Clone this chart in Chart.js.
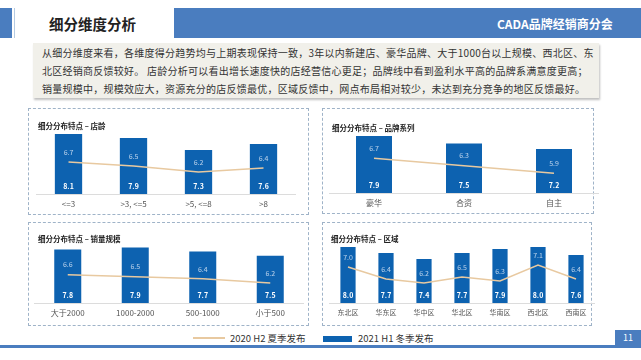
<!DOCTYPE html>
<html><head><meta charset="utf-8">
<script src="https://cdn.jsdelivr.net/npm/chart.js@4/dist/chart.umd.min.js"></script>
<style>
html,body{margin:0;padding:0;background:#fff;}
body{width:641px;height:360px;position:relative;overflow:hidden;font-family:"Noto Sans CJK SC","Noto Sans",sans-serif;}
.abs{position:absolute;}
.panel{position:absolute;border:1px dashed #9fb3c8;box-sizing:border-box;}
.ptitle{position:absolute;font-size:7.5px;font-weight:bold;color:#222;white-space:nowrap;}
.cw{position:absolute;}
</style></head><body>
<div class="abs" style="left:0;top:8px;width:12px;height:30px;background:#4a7dbf"></div>
<div class="abs" style="left:14px;top:8px;width:1px;height:30px;background:#b5cbe3"></div>
<div class="abs" style="left:49px;top:13px;font-size:14.5px;font-weight:bold;color:#222;white-space:nowrap">细分维度分析</div>
<div class="abs" style="left:174px;top:8px;width:467px;height:30px;background:#4a7dbf"></div>
<div class="abs" style="left:497px;top:15px;font-size:12px;font-weight:bold;color:#fff;white-space:nowrap">CADA品牌经销商分会</div>

<div class="abs" style="left:33px;top:43px;width:566px;height:55px;background:#f1f0ea;box-shadow:1px 2px 2px rgba(0,0,0,0.25)"></div>
<div class="abs" style="left:42px;top:44px;font-size:10px;letter-spacing:0.25px;line-height:18px;color:#333;white-space:nowrap">从细分维度来看，各维度得分趋势均与上期表现保持一致，3年以内新建店、豪华品牌、大于1000台以上规模、西北区、东<br>北区经销商反馈较好。 店龄分析可以看出增长速度快的店经营信心更足；品牌线中看到盈利水平高的品牌系满意度更高；<br>销量规模中，规模效应大，资源充分的店反馈最优，区域反馈中，网点布局相对较少，未达到充分竞争的地区反馈最好。</div>

<div class="panel" style="left:28px;top:108px;width:281px;height:107px"></div>
<div class="panel" style="left:322px;top:108px;width:272px;height:106px"></div>
<div class="panel" style="left:28px;top:222px;width:281px;height:104px"></div>
<div class="panel" style="left:322px;top:222px;width:270px;height:104px"></div>

<div class="cw" style="left:36px;top:120px;width:260px;height:92px"><canvas id="c1"></canvas></div>
<div class="cw" style="left:329px;top:120px;width:270px;height:91px"><canvas id="c2"></canvas></div>
<div class="cw" style="left:34px;top:235px;width:270px;height:86px"><canvas id="c3"></canvas></div>
<div class="cw" style="left:329px;top:235px;width:266px;height:86px"><canvas id="c4"></canvas></div>

<div class="ptitle" style="left:38px;top:120px">细分分布特点 – 店龄</div>
<div class="ptitle" style="left:332px;top:122px">细分分布特点 – 品牌系列</div>
<div class="ptitle" style="left:38px;top:233px">细分分布特点 – 销量规模</div>
<div class="ptitle" style="left:331px;top:233px">细分分布特点 – 区域</div>

<div class="abs" style="left:193px;top:337px;width:32px;height:2px;background:#e8c9a0"></div>
<div class="abs" style="left:230px;top:331px;font-size:9.5px;color:#333;white-space:nowrap">2020 H2 夏季发布</div>
<div class="abs" style="left:323px;top:336px;width:29px;height:6px;background:#0d62b0"></div>
<div class="abs" style="left:358px;top:331px;font-size:9.5px;color:#333;white-space:nowrap">2021 H1 冬季发布</div>

<div class="abs" style="left:0;top:345px;width:641px;height:3px;background:#4a7dbf"></div>
<div class="abs" style="left:615px;top:330px;width:26px;height:15px;background:#4a7dbf;color:#fff;font-size:9px;line-height:15px;text-align:center">11</div>

<script>
const ageCats = ["<=3", ">3, <=5", ">5, <=8", ">8"];
const ageBar = [8.1, 7.9, 7.3, 7.6];
const ageLine = [6.7, 6.5, 6.2, 6.4];

const brandCats = ["豪华", "合资", "自主"];
const brandBar = [7.9, 7.5, 7.2];
const brandLine = [6.7, 6.3, 5.9];

const scaleCats = ["大于2000", "1000-2000", "500-1000", "小于500"];
const scaleBar = [7.8, 7.9, 7.7, 7.5];
const scaleLine = [6.6, 6.5, 6.4, 6.2];

const regionCats = ["东北区", "华东区", "华中区", "华北区", "华南区", "西北区", "西南区"];
const regionBar = [8.0, 7.7, 7.4, 7.7, 7.9, 8.0, 7.6];
const regionLine = [7.0, 6.4, 6.2, 6.5, 6.3, 7.1, 6.4];

const FONT = '"Noto Sans CJK SC","Noto Sans",sans-serif';

const labelPlugin = {
  id: 'vals',
  afterDraw(chart) {
    const ctx = chart.ctx;
    const bottom = chart.chartArea.bottom;
    ctx.save();
    ctx.textAlign = 'center';
    ctx.textBaseline = 'middle';
    chart.data.datasets.forEach((ds, i) => {
      const meta = chart.getDatasetMeta(i);
      meta.data.forEach((el, j) => {
        const v = ds.data[j].toFixed(1);
        if (meta.type === 'bar') {
          ctx.font = 'bold 7px ' + FONT;
          ctx.fillStyle = '#ffffff';
          ctx.fillText(v, el.x, bottom - 8);
        } else {
          ctx.font = '7px ' + FONT;
          ctx.fillStyle = 'rgba(215,228,245,0.85)';
          ctx.fillText(v, el.x, el.y - 10);
        }
      });
    });
    ctx.restore();
  }
};

function make(id, cats, bars, line, ymin, ymax, pct, fs) {
  new Chart(document.getElementById(id), {
    data: {
      labels: cats,
      datasets: [
        { type: 'line', data: line, borderColor: '#e8c9a0', borderWidth: 1.5, pointRadius: 0, tension: 0, order: 0 },
        { type: 'bar', data: bars, backgroundColor: '#0d62b0', categoryPercentage: 1, barPercentage: pct, order: 1 }
      ]
    },
    options: {
      responsive: true, maintainAspectRatio: false, animation: false,
      layout: { padding: 0 },
      plugins: { legend: { display: false }, tooltip: { enabled: false } },
      scales: {
        x: {
          offset: true,
          grid: { display: false, drawTicks: false },
          border: { color: '#dcdcdc' },
          ticks: { color: '#555', font: { size: fs, family: FONT }, padding: 5, maxRotation: 0, autoSkip: false },
          afterFit(s) { s.height = 18; }
        },
        y: { display: false, min: ymin, max: ymax }
      }
    },
    plugins: [labelPlugin]
  });
}

make('c1', ageCats, ageBar, ageLine, 5.1, 8.8, 0.42, 8);
make('c2', brandCats, brandBar, brandLine, 4.84, 8.76, 0.4, 8);
make('c3', scaleCats, scaleBar, scaleLine, 5.25, 8.49, 0.4, 8);
make('c4', regionCats, regionBar, regionLine, 5.2, 8.6, 0.4, 7);
</script>
</body></html>
